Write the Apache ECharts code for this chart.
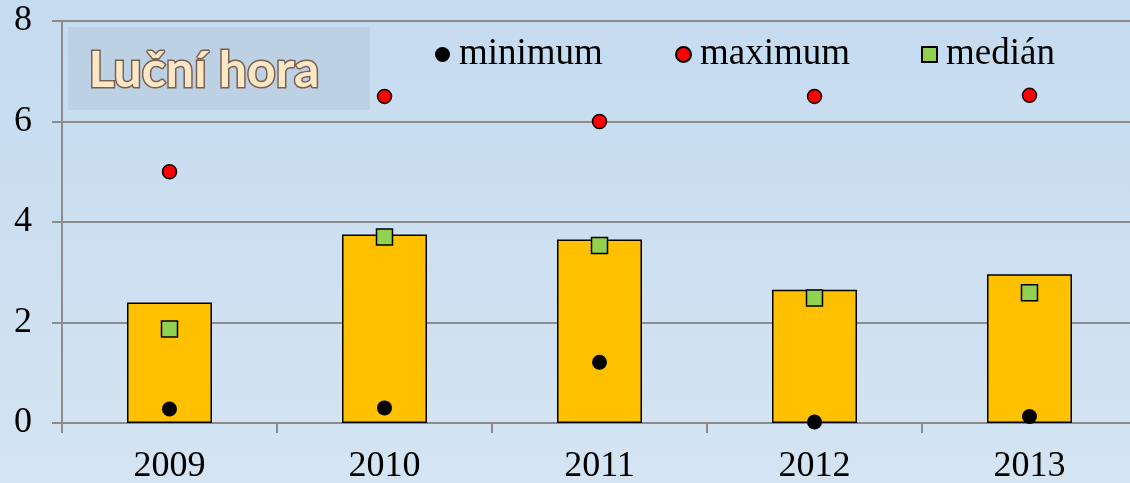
<!DOCTYPE html>
<html><head><meta charset="utf-8">
<script src="https://cdn.jsdelivr.net/npm/echarts@6/dist/echarts.min.js"></script>
<style>html,body{margin:0;padding:0;}#c{width:1130px;height:483px;}</style>
</head><body><div id="c"></div>
<script>
const years = ['2009','2010','2011','2012','2013'];
const barValues = [2.40, 3.75, 3.65, 2.65, 2.96];
const minimum = [0.28, 0.30, 1.21, 0.02, 0.13];
const maximum = [5.00, 6.50, 6.00, 6.50, 6.52];
const median = [1.87, 3.70, 3.53, 2.49, 2.59];
const yTicks = [0, 2, 4, 6, 8];
const titleText = 'Luční hora';
const legendNames = ['minimum', 'maximum', 'medián'];

const chart = echarts.init(document.getElementById('c'));
const serif = '"Liberation Serif", "DejaVu Serif", serif';
const legendBase = {
  top: 31, itemWidth: 15, itemHeight: 15, itemGap: 0,
  textStyle: { fontFamily: serif, fontSize: 37, color: '#000', padding: [0,0,0,4] },
  selectedMode: false
};
chart.setOption({
  backgroundColor: new echarts.graphic.LinearGradient(0,0,0,1,[{offset:0,color:'#c5dbf0'},{offset:1,color:'#d4e4f2'}]),
  animation: false,
  grid: { left: 62, width: 1075, top: 21, height: 402, containLabel: false, outerBoundsMode: 'none' },
  graphic: [
    { type: 'rect', left: 68, top: 27, shape: { width: 302, height: 83 }, style: { fill: '#bdd1e5' }, z: 0 },
    { type: 'text', left: 87, top: 44, z: 1, style: {
      text: titleText, fontFamily: 'Lato, "Open Sans", sans-serif', fontWeight: 'bold', fontSize: 50,
      fill: '#fde8c6', stroke: '#7b5e50', lineWidth: 3,
      shadowColor: 'rgba(0,0,0,0.35)', shadowBlur: 3, shadowOffsetX: 2, shadowOffsetY: 2 } }
  ],
  legend: [
    Object.assign({}, legendBase, { left: 430, data: [{ name: legendNames[0], icon: 'circle' }] }),
    Object.assign({}, legendBase, { left: 670, data: [{ name: legendNames[1], icon: 'circle' }] }),
    Object.assign({}, legendBase, { left: 916, data: [{ name: legendNames[2], icon: 'rect' }] })
  ],
  xAxis: {
    type: 'category', data: years,
    axisLine: { lineStyle: { color: '#8c8c8c', width: 2 } },
    axisTick: { show: true, length: 10, lineStyle: { color: '#8c8c8c', width: 2 } },
    axisLabel: { fontFamily: serif, fontSize: 36, color: '#000', margin: 26 }
  },
  yAxis: {
    type: 'value', min: 0, max: 8, interval: 2,
    axisLine: { show: true, lineStyle: { color: '#8c8c8c', width: 2 } },
    axisTick: { show: true, length: 10, lineStyle: { color: '#8c8c8c', width: 2 } },
    splitLine: { lineStyle: { color: '#8c8c8c', width: 2 } },
    axisLabel: { fontFamily: serif, fontSize: 36, color: '#000', margin: 30,
      formatter: v => yTicks.includes(v) ? String(v) : '' }
  },
  series: [
    { type: 'bar', data: barValues, barWidth: 85, itemStyle: { color: '#ffc000', borderColor: '#000', borderWidth: 1.5 }, z: 2 },
    { name: legendNames[0], type: 'scatter', data: minimum, symbol: 'circle', symbolSize: 15, itemStyle: { color: '#000', opacity: 1 }, z: 5 },
    { name: legendNames[1], type: 'scatter', data: maximum, symbol: 'circle', symbolSize: 14, itemStyle: { color: '#ff0000', borderColor: '#000', borderWidth: 1.5, opacity: 1 }, z: 5 },
    { name: legendNames[2], type: 'scatter', data: median, symbol: 'rect', symbolSize: 16, itemStyle: { color: '#92d050', borderColor: '#000', borderWidth: 1.5, opacity: 1 }, z: 5 }
  ]
});
</script></body></html>
